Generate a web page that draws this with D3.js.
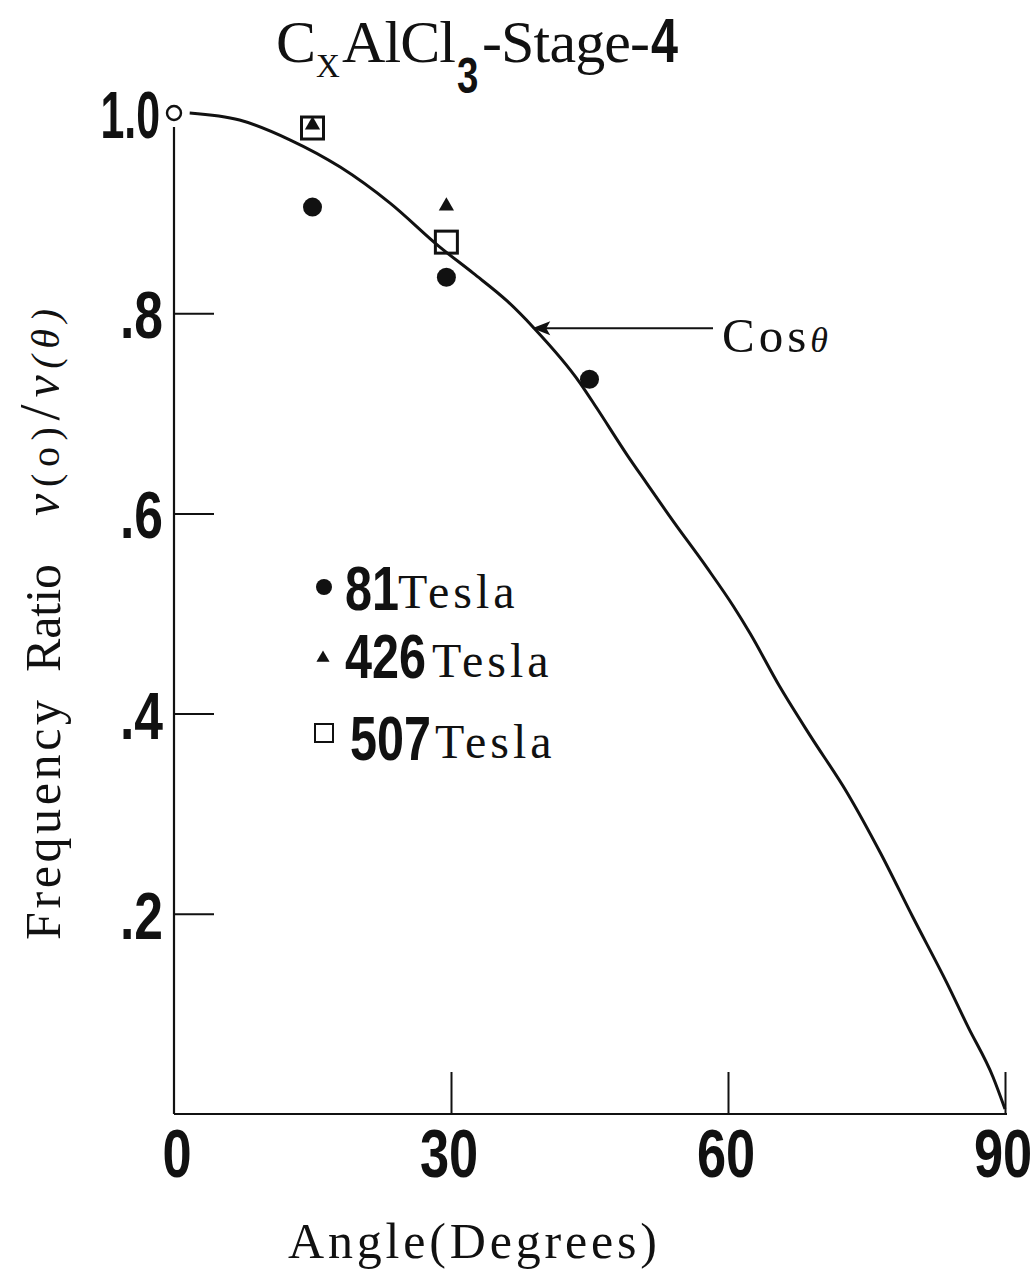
<!DOCTYPE html>
<html>
<head>
<meta charset="utf-8">
<script src="https://cdn.jsdelivr.net/npm/d3@7"></script>
<style>
  html, body { margin: 0; padding: 0; background: #fff; }
  svg { display: block; }
  .serif { font-family: "Liberation Serif", "Times New Roman", serif; fill: #111; }
  .cond { font-family: "Liberation Sans", Arial, sans-serif; font-weight: 700; fill: #111; }
</style>
</head>
<body>
<svg id="chart" width="1033" height="1274"></svg>
<script>
// ---------------- data ----------------
const xTicks = [0, 30, 60, 90];
const xTickLabels = ["0", "30", "60", "90"];
const yTicks = [0.2, 0.4, 0.6, 0.8, 1.0];
const yTickLabels = [".2", ".4", ".6", ".8", "1.0"];

// reference point (open circle)
const refAngle = [0];
const refRatio = [1.0];

// 81 Tesla (filled circles)
const t81Angle = [15, 29.5, 45];
const t81Ratio = [0.906, 0.836, 0.734];

// 426 Tesla (filled triangles)
const t426Angle = [15, 29.5];
const t426Ratio = [0.988, 0.907];

// 507 Tesla (open squares)
const t507Angle = [15, 29.5];
const t507Ratio = [0.985, 0.871];

// hand-drawn "Cos θ" curve
const cosAngle = [1.7, 7.1, 12.6, 18.0, 23.4, 28.8, 32.4, 36.1, 38.9, 44.0, 45.8, 49.1, 51.2, 54.0, 57.7, 60.6, 62.4, 65.6, 68.9, 72.9, 76.5, 80.0, 83.7, 86.0, 88.7, 90.0];
const cosRatio = [1.000, 0.993, 0.973, 0.946, 0.910, 0.866, 0.840, 0.812, 0.786, 0.730, 0.705, 0.658, 0.630, 0.593, 0.546, 0.507, 0.480, 0.427, 0.378, 0.321, 0.261, 0.197, 0.131, 0.087, 0.037, 0.005];

const legendFields = ["81", "426", "507"];
const legendUnit = "Tesla";

// ---------------- chart ----------------
const svg = d3.select("#chart");
const x = d3.scaleLinear().domain([0, 90]).range([174, 1005]);
const y = d3.scaleLinear().domain([0, 1]).range([1114, 113]);
const ink = "#111";
const SX = 0.77; // horizontal squeeze for the condensed bold numerals

function condText(px, py, size, txt, anchor, sx) {
  const g = svg.append("g").attr("transform", `translate(${px},${py}) scale(${sx || SX},1)`);
  return g.append("text").attr("class", "cond").attr("font-size", size)
    .attr("text-anchor", anchor || "start").text(txt);
}

// axes lines
svg.append("line").attr("x1", x(0)).attr("x2", x(0)).attr("y1", y(1) + 14).attr("y2", y(0))
  .attr("stroke", ink).attr("stroke-width", 2.2);
svg.append("line").attr("x1", x(0)).attr("x2", x(90) + 2).attr("y1", y(0)).attr("y2", y(0))
  .attr("stroke", ink).attr("stroke-width", 2.2);

// x axis ticks (inward)
const xAxis = d3.axisBottom(x).tickValues(xTicks).tickFormat("")
  .tickSizeInner(-42).tickSizeOuter(0);
const gx = svg.append("g").attr("transform", `translate(0,${y(0)})`).call(xAxis);
gx.select(".domain").remove();
gx.selectAll(".tick text").remove();
gx.selectAll(".tick line").attr("stroke", ink).attr("stroke-width", 2)
  .filter(d => d === 0).remove();
xTicks.forEach((d, i) => condText(x(d) + (d === 0 ? 3 : -2), y(0) + 63, 68, xTickLabels[i], "middle"));

// y axis ticks (inward)
const yAxis = d3.axisLeft(y).tickValues(yTicks).tickFormat("")
  .tickSizeInner(-40).tickSizeOuter(0);
const gy = svg.append("g").attr("transform", `translate(${x(0)},0)`).call(yAxis);
gy.select(".domain").remove();
gy.selectAll(".tick text").remove();
gy.selectAll(".tick line").attr("stroke", ink).attr("stroke-width", 2)
  .filter(d => d === 1.0).remove();
yTicks.forEach((d, i) => {
  const wide = yTickLabels[i].length > 2;
  condText(x(0) - (wide ? 14 : 11), y(d) + 25, 67, yTickLabels[i], "end", wide ? 0.64 : SX);
});

// cos curve
const curveData = cosAngle.map((a, i) => [a, cosRatio[i]]);
svg.append("path").datum(curveData)
  .attr("d", d3.line().x(d => x(d[0])).y(d => y(d[1])).curve(d3.curveMonotoneX))
  .attr("fill", "none").attr("stroke", ink).attr("stroke-width", 3);

// reference open circle
svg.selectAll(".ref").data(refAngle.map((a, i) => [a, refRatio[i]])).enter()
  .append("circle").attr("cx", d => x(d[0])).attr("cy", d => y(d[1])).attr("r", 7)
  .attr("fill", "#fff").attr("stroke", ink).attr("stroke-width", 2.4);

// 507 squares
svg.selectAll(".sq").data(t507Angle.map((a, i) => [a, t507Ratio[i]])).enter()
  .append("rect").attr("x", d => x(d[0]) - 11).attr("y", d => y(d[1]) - 11)
  .attr("width", 22).attr("height", 22)
  .attr("fill", "none").attr("stroke", ink).attr("stroke-width", 3);

// 426 triangles
const tri = d3.symbol().type(d3.symbolTriangle).size(100);
svg.selectAll(".tri").data(t426Angle.map((a, i) => [a, t426Ratio[i]])).enter()
  .append("path").attr("d", tri).attr("transform", d => `translate(${x(d[0])},${y(d[1])})`)
  .attr("fill", ink);

// 81 circles
svg.selectAll(".dot").data(t81Angle.map((a, i) => [a, t81Ratio[i]])).enter()
  .append("circle").attr("cx", d => x(d[0])).attr("cy", d => y(d[1])).attr("r", 9.5)
  .attr("fill", ink);

// Cos θ annotation arrow
const tipA = 38.8, tipR = 0.785;
const tx = x(tipA), ty = y(tipR);
svg.append("line").attr("x1", tx + 12).attr("x2", 713).attr("y1", ty).attr("y2", ty)
  .attr("stroke", ink).attr("stroke-width", 2);
svg.append("path").attr("d", `M${tx},${ty} L${tx + 18},${ty - 7} L${tx + 14},${ty} L${tx + 18},${ty + 7} Z`)
  .attr("fill", ink);
const cosT = svg.append("text").attr("class", "serif").attr("x", 722).attr("y", 352)
  .attr("font-size", 49).attr("letter-spacing", 4);
cosT.append("tspan").text("Cos");
cosT.append("tspan").attr("font-style", "italic").attr("font-size", 36).attr("dx", 0).text("θ");

// title
svg.append("text").attr("class", "serif").attr("x", 276).attr("y", 62).attr("font-size", 60).text("C");
svg.append("text").attr("class", "serif").attr("x", 316).attr("y", 77).attr("font-size", 33).text("X");
svg.append("text").attr("class", "serif").attr("x", 342).attr("y", 62).attr("font-size", 60)
  .attr("textLength", 114).attr("lengthAdjust", "spacing").text("AlCl");
condText(457, 93, 50, "3", "start");
svg.append("text").attr("class", "serif").attr("x", 482).attr("y", 62).attr("font-size", 60)
  .attr("textLength", 168).attr("lengthAdjust", "spacing").text("-Stage-");
condText(651, 62, 63, "4", "start");

// y axis title (rotated)
svg.append("text").attr("class", "serif").attr("transform", "translate(60,940) rotate(-90)")
  .attr("font-size", 50).attr("textLength", 240).attr("lengthAdjust", "spacing").text("Frequency");
svg.append("text").attr("class", "serif").attr("transform", "translate(60,672) rotate(-90)")
  .attr("font-size", 50).attr("textLength", 108).attr("lengthAdjust", "spacing").text("Ratio");
const nu = svg.append("text").attr("class", "serif").attr("transform", "translate(59,516) rotate(-90)")
  .attr("font-size", 46).attr("textLength", 207).attr("lengthAdjust", "spacing");
nu.append("tspan").attr("font-style", "italic").attr("font-size", 50).text("ν");
nu.append("tspan").attr("font-size", 40).text("(o)");
nu.append("tspan").attr("font-size", 58).text("/");
nu.append("tspan").attr("font-style", "italic").attr("font-size", 50).text("ν");
nu.append("tspan").attr("font-size", 40).attr("font-style", "italic").text("(θ)");

// x axis title
svg.append("text").attr("class", "serif").attr("x", 288).attr("y", 1258).attr("font-size", 50)
  .attr("textLength", 369).attr("lengthAdjust", "spacing").text("Angle(Degrees)");

// legend
const legendRows = [
  { cy: 587, base: 610, numX: 345, unitX: 398, ubase: 608 },
  { cy: 658, base: 678, numX: 345, unitX: 432, ubase: 677 },
  { cy: 733, base: 760, numX: 350, unitX: 435, ubase: 758 }
];
legendFields.forEach((lab, i) => {
  const r = legendRows[i];
  if (i === 0) {
    svg.append("circle").attr("cx", 324).attr("cy", r.cy).attr("r", 8).attr("fill", ink);
  } else if (i === 1) {
    svg.append("path").attr("d", d3.symbol().type(d3.symbolTriangle).size(75))
      .attr("transform", `translate(323,${r.cy})`).attr("fill", ink);
  } else {
    svg.append("rect").attr("x", 315).attr("y", r.cy - 9).attr("width", 18).attr("height", 18)
      .attr("fill", "none").attr("stroke", ink).attr("stroke-width", 2);
  }
  condText(r.numX, r.base, 63, lab, "start");
  svg.append("text").attr("class", "serif").attr("x", r.unitX).attr("y", r.ubase)
    .attr("font-size", 48).attr("letter-spacing", 4).text(legendUnit);
});
</script>
</body>
</html>
